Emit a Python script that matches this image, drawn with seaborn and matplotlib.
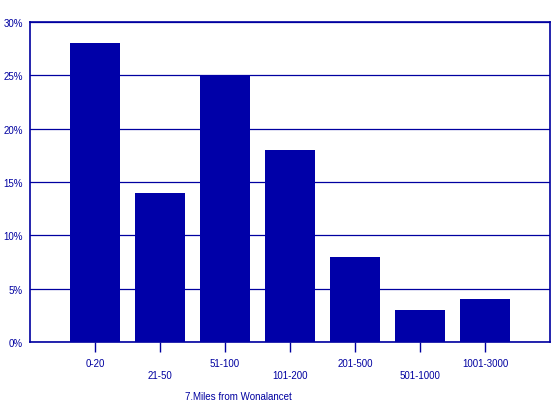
import seaborn as sns
import matplotlib.pyplot as plt
from matplotlib.ticker import PercentFormatter

# Distance categories and share of respondents (%)
categories = ['0-20', '21-50', '51-100', '101-200', '201-500', '501-1000', '1001-3000']
shares = [28, 14, 25, 18, 8, 3, 4]
y_ticks = [0, 5, 10, 15, 20, 25, 30]

navy = '#0000A0'
bar_color = '#0000A8'

sns.set_style('white')
plt.rcParams['font.family'] = ['Liberation Sans', 'DejaVu Sans']

fig = plt.figure(figsize=(5.54, 4.14), dpi=100)
ax = fig.add_axes([30 / 554, 71 / 414, 520 / 554, 320 / 414])

sns.barplot(x=categories, y=shares, color=bar_color, saturation=1, width=0.77,
            linewidth=0, ax=ax, zorder=3)

ax.set_xlim(-1, len(categories))
ax.set_ylim(0, 30)
ax.set_yticks(y_ticks)
ax.yaxis.set_major_formatter(PercentFormatter(decimals=0))
ax.grid(axis='y', color=navy, linewidth=0.9, zorder=0)
ax.grid(axis='x', visible=False)

# staggered category labels
ax.set_xticks(range(len(categories)))
ax.set_xticklabels([c if i % 2 == 0 else '\n' + c for i, c in enumerate(categories)])

ax.tick_params(axis='x', direction='out', length=7.5, width=1, color=navy, bottom=True,
               labelsize=7, labelcolor=navy, pad=4)
ax.tick_params(axis='y', length=0, labelsize=7, labelcolor=navy, pad=5)

for s in ax.spines.values():
    s.set_visible(True)
    s.set_color(navy)
    s.set_linewidth(1.2)

ax.set_xlabel('')
ax.set_ylabel('')
fig.text(185 / 554, 1 - 397 / 414, '7.Miles from Wonalancet', fontsize=7, color=navy,
         ha='left', va='center')

fig.savefig('out.png', dpi=100)
